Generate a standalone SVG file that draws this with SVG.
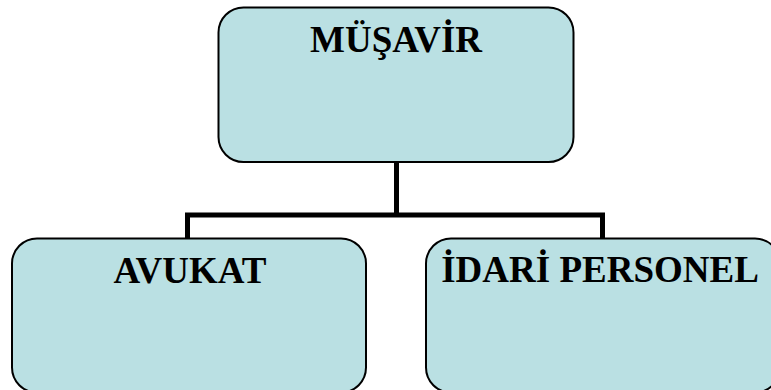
<svg xmlns="http://www.w3.org/2000/svg" width="771" height="390" viewBox="0 0 771 390">
<style>
.box{fill:#BAE0E3;stroke:#000;stroke-width:2}
.lbl{font-family:"Liberation Serif","Times New Roman",serif;font-weight:bold;font-size:37px;fill:#000;text-anchor:middle}
.conn{fill:none;stroke:#000;stroke-width:5}
</style>
<rect width="771" height="390" fill="#fff"/>
<g id="connectors">
<path class="conn" d="M396.5 162 V215 M187.5 239 V215 H602.5 V239"/>
</g>
<g id="musavir">
<rect class="box" x="218.5" y="7.5" width="355" height="154.5" rx="25" ry="25"/>
<text class="lbl" x="396" y="52">MÜŞAVİR</text>
</g>
<g id="avukat">
<rect class="box" x="12" y="238.5" width="354" height="154" rx="25" ry="25"/>
<text class="lbl" x="190" y="283">AVUKAT</text>
</g>
<g id="idari">
<rect class="box" x="426" y="238.5" width="354" height="154" rx="25" ry="25"/>
<text class="lbl" x="600" y="282">İDARİ PERSONEL</text>
</g>
</svg>
